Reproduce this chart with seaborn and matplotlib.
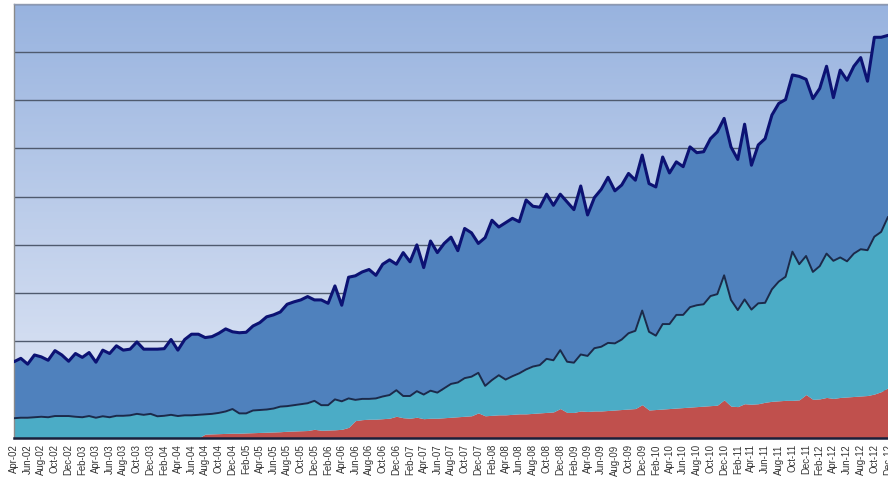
import numpy as np
import pandas as pd
import matplotlib
matplotlib.use("Agg")
import matplotlib.pyplot as plt
from matplotlib.colors import LinearSegmentedColormap
import seaborn as sns

# Monthly series, Apr-2002 .. Dec-2012 (stacked levels)
months = pd.date_range("2002-04-01", "2012-12-01", freq="MS").strftime("%b-%y").tolist()

level_total = [
    1.58, 1.65, 1.53, 1.72, 1.68, 1.61, 1.81, 1.72, 1.59, 1.75,
    1.67, 1.77, 1.57, 1.82, 1.75, 1.91, 1.82, 1.84, 1.99, 1.84,
    1.84, 1.84, 1.85, 2.04, 1.82, 2.04, 2.15, 2.15, 2.08, 2.10,
    2.17, 2.26, 2.20, 2.18, 2.19, 2.32, 2.39, 2.51, 2.55, 2.61,
    2.77, 2.82, 2.86, 2.93, 2.86, 2.86, 2.79, 3.15, 2.75, 3.33,
    3.36, 3.44, 3.49, 3.37, 3.60, 3.69, 3.60, 3.84, 3.65, 4.00,
    3.53, 4.08, 3.84, 4.03, 4.16, 3.88, 4.34, 4.25, 4.03, 4.15,
    4.51, 4.37, 4.46, 4.55, 4.48, 4.93, 4.80, 4.78, 5.05, 4.82,
    5.05, 4.89, 4.73, 5.22, 4.62, 4.98, 5.15, 5.40, 5.12, 5.24,
    5.48, 5.34, 5.86, 5.27, 5.20, 5.82, 5.49, 5.72, 5.62, 6.03,
    5.91, 5.93, 6.20, 6.34, 6.62, 6.03, 5.77, 6.50, 5.65, 6.07,
    6.20, 6.69, 6.93, 7.01, 7.52, 7.49, 7.43, 7.03, 7.24, 7.70,
    7.05, 7.62, 7.41, 7.70, 7.88, 7.39, 8.30, 8.30, 8.34,
]

level_teal = [
    0.41, 0.42, 0.42, 0.43, 0.44, 0.43, 0.455, 0.455, 0.455, 0.44,
    0.43, 0.455, 0.42, 0.45, 0.43, 0.46, 0.46, 0.47, 0.50, 0.48,
    0.50, 0.45, 0.46, 0.48, 0.455, 0.47, 0.47, 0.48, 0.49, 0.50,
    0.52, 0.55, 0.60, 0.51, 0.51, 0.57, 0.58, 0.59, 0.61, 0.65,
    0.66, 0.68, 0.70, 0.72, 0.77, 0.68, 0.68, 0.80, 0.76, 0.82,
    0.79, 0.81, 0.81, 0.82, 0.86, 0.89, 0.99, 0.87, 0.87, 0.97,
    0.90, 0.98, 0.94, 1.03, 1.12, 1.15, 1.24, 1.27, 1.35, 1.08,
    1.20, 1.30, 1.21, 1.28, 1.34, 1.42, 1.48, 1.51, 1.64, 1.61,
    1.82, 1.58, 1.56, 1.73, 1.70, 1.86, 1.89, 1.97, 1.96, 2.04,
    2.17, 2.22, 2.64, 2.20, 2.12, 2.36, 2.36, 2.55, 2.55, 2.71,
    2.75, 2.77, 2.94, 2.98, 3.37, 2.86, 2.65, 2.87, 2.66, 2.79,
    2.80, 3.08, 3.24, 3.34, 3.86, 3.60, 3.77, 3.44, 3.56, 3.82,
    3.67, 3.74, 3.66, 3.82, 3.91, 3.89, 4.17, 4.27, 4.58,
]

level_red = [
    0, 0, 0, 0, 0, 0, 0, 0, 0, 0,
    0, 0, 0, 0, 0, 0, 0, 0, 0, 0,
    0, 0, 0, 0, 0, 0, 0, 0, 0.08, 0.085,
    0.09, 0.095, 0.10, 0.10, 0.105, 0.11, 0.115, 0.12, 0.125, 0.13,
    0.14, 0.145, 0.15, 0.155, 0.18, 0.16, 0.165, 0.17, 0.18, 0.22,
    0.36, 0.38, 0.39, 0.39, 0.40, 0.41, 0.45, 0.42, 0.41, 0.43,
    0.40, 0.41, 0.41, 0.42, 0.43, 0.44, 0.45, 0.46, 0.52, 0.46,
    0.47, 0.48, 0.48, 0.49, 0.50, 0.50, 0.51, 0.52, 0.53, 0.54,
    0.61, 0.53, 0.53, 0.56, 0.55, 0.56, 0.56, 0.57, 0.58, 0.59,
    0.60, 0.61, 0.69, 0.58, 0.59, 0.60, 0.61, 0.62, 0.63, 0.64,
    0.65, 0.66, 0.67, 0.68, 0.79, 0.66, 0.65, 0.71, 0.70, 0.71,
    0.74, 0.76, 0.77, 0.78, 0.78, 0.79, 0.90, 0.80, 0.81, 0.84,
    0.82, 0.84, 0.85, 0.86, 0.87, 0.88, 0.91, 0.96, 1.04,
]

sns.set_theme(style="white")
plt.rcParams["font.family"] = ["Liberation Sans", "DejaVu Sans"]

x = np.arange(len(months))
total = np.array(level_total)
teal = np.array(level_teal)
red = np.array(level_red)

fig = plt.figure(figsize=(8.88, 4.83), dpi=100)
ax = fig.add_axes([14 / 888, 45 / 483, 874 / 888, 434.5 / 483])

# vertical gradient backdrop of the plot area
bg = LinearSegmentedColormap.from_list("bg", ["#98b3df", "#e3e9f6"])
grad = np.linspace(0, 1, 256).reshape(-1, 1)
ax.imshow(grad, extent=[0, len(months) - 1, 0, 9], aspect="auto", cmap=bg,
          zorder=0, interpolation="bicubic")

ax.set_axisbelow(True)
ax.set_yticks(range(0, 10))
ax.yaxis.grid(True, color="#4f5a6e", linewidth=1.0)
ax.tick_params(left=False, labelleft=False)

ax.fill_between(x, 0, red, color="#c0504d", linewidth=0, zorder=2)
ax.fill_between(x, red, teal, color="#4bacc6", linewidth=0, zorder=2)
ax.fill_between(x, teal, total, color="#4f81bd", linewidth=0, zorder=2)

sns.lineplot(x=x, y=teal, color="#1b2a4a", linewidth=1.4, ax=ax, zorder=3)
sns.lineplot(x=x, y=total, color="#0c1273", linewidth=2.2, ax=ax, zorder=4)

ax.set_xlim(0, len(months) - 1)
ax.set_ylim(0, 9)
ax.set_xticks(x[::2])
ax.set_xticklabels(months[::2], rotation=90, fontsize=6.9, color="#333333")
ax.tick_params(axis="x", bottom=False, length=0, pad=4.5)
ax.set_xlabel("")
ax.set_ylabel("")

for side in ["top", "left", "bottom", "right"]:
    ax.spines[side].set_visible(True)
ax.spines["left"].set_color("#8a8a8a")
ax.spines["left"].set_linewidth(1.0)
ax.spines["top"].set_color("#8f9ab0")
ax.spines["top"].set_linewidth(1.0)
ax.spines["bottom"].set_color("#1a1f3a")
ax.spines["bottom"].set_linewidth(1.8)
ax.spines["right"].set_visible(False)

fig.savefig("out.png", dpi=100, facecolor="white")
